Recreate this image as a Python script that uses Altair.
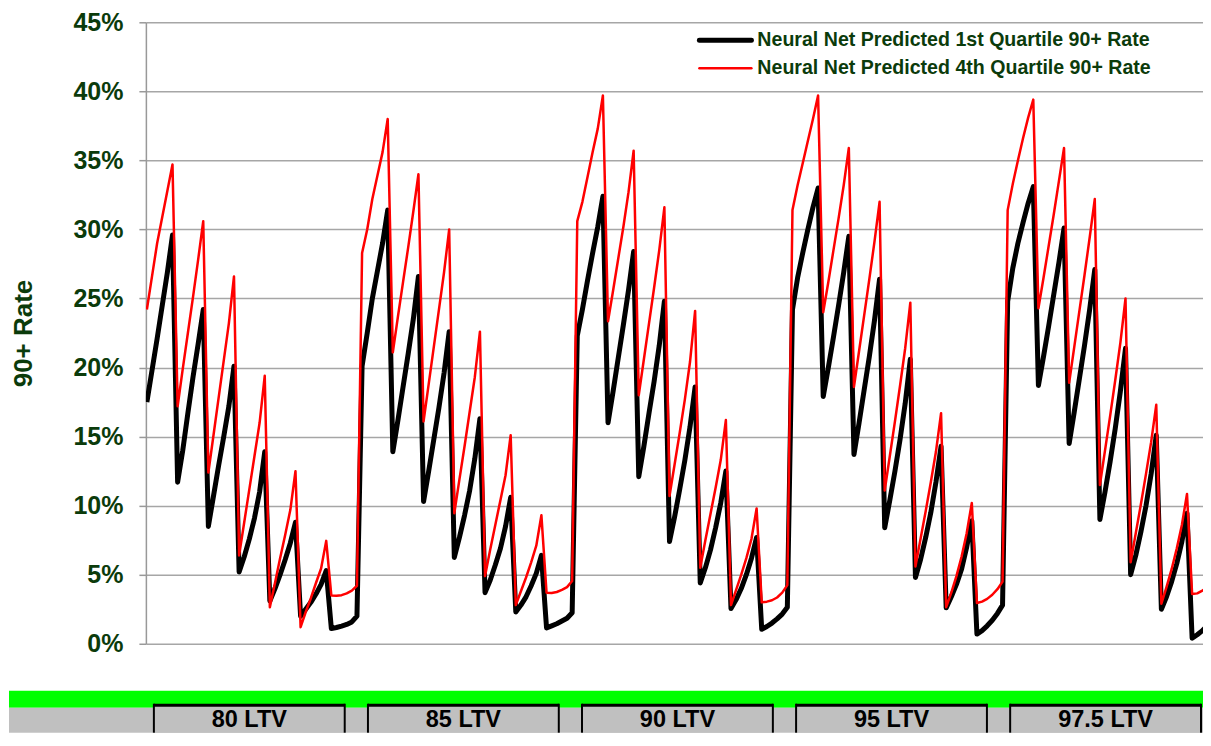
import altair as alt
import pandas as pd

# ---------------- data (values in percent) ----------------
groups = ["80 LTV", "85 LTV", "90 LTV", "95 LTV", "97.5 LTV"]
series_names = [
    "Neural Net Predicted 1st Quartile 90+ Rate",
    "Neural Net Predicted 4th Quartile 90+ Rate",
]
points_per_group = 42

q1_ltv80 = [17.5, 19.8, 22.1, 24.5, 26.9, 29.6,
            11.7, 14.0, 16.7, 19.3, 21.7, 24.2,
            8.5, 10.7, 12.9, 15.0, 17.2, 20.1,
            5.2, 6.3, 7.6, 9.1, 11.0, 13.9,
            3.1, 4.0, 5.0, 6.1, 7.3, 8.8,
            2.0, 2.5, 3.0, 3.6, 4.3, 5.3,
            1.10, 1.18, 1.28, 1.40, 1.58, 2.00]
q4_ltv80 = [24.2, 26.6, 29.0, 30.9, 32.8, 34.7,
            17.2, 19.9, 22.5, 25.1, 27.8, 30.6,
            12.4, 15.1, 17.8, 20.5, 23.2, 26.6,
            6.4, 8.8, 11.2, 13.6, 16.0, 19.4,
            2.65, 4.4, 6.2, 7.9, 9.7, 12.5,
            1.2, 2.3, 3.3, 4.4, 5.45, 7.45,
            3.50, 3.47, 3.52, 3.65, 3.85, 4.20]

q1_ltv85 = [20.1, 22.5, 25.0, 27.0, 29.0, 31.4,
            13.9, 16.2, 18.6, 21.0, 23.5, 26.6,
            10.3, 12.5, 14.8, 17.1, 19.6, 22.6,
            6.25, 7.7, 9.3, 11.1, 13.4, 16.3,
            3.7, 4.6, 5.7, 6.9, 8.5, 10.6,
            2.3, 2.8, 3.4, 4.2, 5.1, 6.4,
            1.15, 1.30, 1.45, 1.65, 1.85, 2.25]
q4_ltv85 = [28.3, 30.0, 32.2, 33.9, 35.6, 38.0,
            21.1, 23.7, 26.2, 28.7, 31.3, 34.0,
            16.1, 18.8, 21.5, 24.2, 26.9, 30.0,
            9.45, 11.9, 14.3, 16.8, 19.3, 22.6,
            4.9, 6.8, 8.6, 10.4, 12.2, 15.1,
            2.8, 3.8, 4.8, 5.9, 7.1, 9.3,
            3.70, 3.68, 3.75, 3.90, 4.10, 4.55]

q1_ltv90 = [22.3, 24.2, 26.3, 28.3, 30.2, 32.4,
            16.0, 18.3, 20.7, 23.1, 25.6, 28.4,
            12.1, 14.3, 16.7, 19.0, 21.6, 24.8,
            7.4, 9.2, 11.2, 13.3, 15.7, 18.6,
            4.4, 5.5, 6.8, 8.4, 10.2, 12.5,
            2.55, 3.2, 4.0, 5.0, 6.2, 7.7,
            1.05, 1.25, 1.50, 1.80, 2.15, 2.65]
q4_ltv90 = [30.6, 32.0, 33.8, 35.6, 37.3, 39.7,
            23.35, 25.6, 27.9, 30.2, 32.7, 35.7,
            18.0, 20.6, 23.2, 25.8, 28.5, 31.6,
            10.7, 13.0, 15.3, 17.7, 20.4, 24.1,
            5.5, 7.5, 9.4, 11.3, 13.3, 16.2,
            2.8, 3.9, 5.0, 6.2, 7.6, 9.8,
            3.00, 3.05, 3.15, 3.35, 3.70, 4.25]

q1_ltv95 = [24.2, 26.5, 28.3, 30.0, 31.6, 33.0,
            17.9, 20.0, 22.2, 24.5, 26.9, 29.5,
            13.7, 16.0, 18.4, 20.8, 23.4, 26.4,
            8.4, 10.4, 12.5, 14.8, 17.4, 20.6,
            4.8, 6.1, 7.7, 9.5, 11.7, 14.3,
            2.6, 3.4, 4.3, 5.4, 7.0, 8.9,
            0.70, 0.95, 1.30, 1.70, 2.20, 2.80]
q4_ltv95 = [31.4, 33.2, 34.8, 36.4, 38.0, 39.7,
            24.0, 26.2, 28.5, 30.8, 33.2, 35.9,
            18.6, 21.2, 23.8, 26.4, 29.1, 32.0,
            11.1, 13.6, 16.1, 18.7, 21.4, 24.7,
            5.6, 7.6, 9.6, 11.7, 13.9, 16.7,
            2.65, 3.7, 4.9, 6.3, 8.0, 10.2,
            2.95, 3.05, 3.25, 3.55, 3.95, 4.50]

q1_ltv975 = [24.8, 27.2, 29.0, 30.5, 31.9, 33.1,
             18.7, 20.8, 23.0, 25.3, 27.6, 30.1,
             14.5, 16.8, 19.2, 21.6, 24.2, 27.1,
             9.0, 11.0, 13.2, 15.6, 18.3, 21.4,
             5.0, 6.4, 8.1, 10.0, 12.3, 15.1,
             2.5, 3.4, 4.5, 5.8, 7.4, 9.45,
             0.40, 0.65, 0.95, 1.30, 1.70, 2.20]
q4_ltv975 = [31.4, 33.3, 35.0, 36.6, 38.1, 39.4,
             24.3, 26.5, 28.8, 31.1, 33.5, 35.9,
             18.9, 21.5, 24.1, 26.7, 29.4, 32.2,
             11.5, 14.0, 16.5, 19.1, 21.8, 25.0,
             5.9, 8.0, 10.1, 12.3, 14.6, 17.3,
             2.9, 4.1, 5.4, 6.9, 8.6, 10.85,
             3.60, 3.65, 3.85, 4.10, 4.45, 4.90]

y_ticks = [0, 0.05, 0.10, 0.15, 0.20, 0.25, 0.30, 0.35, 0.40, 0.45]

q1_all = [q1_ltv80, q1_ltv85, q1_ltv90, q1_ltv95, q1_ltv975]
q4_all = [q4_ltv80, q4_ltv85, q4_ltv90, q4_ltv95, q4_ltv975]

# ---------------- build tables ----------------
rows = []
for g in range(len(groups)):
    for name, arr in ((series_names[0], q1_all[g]), (series_names[1], q4_all[g])):
        for k, v in enumerate(arr):
            rows.append({"idx": g * points_per_group + k, "rate": v / 100.0,
                         "series": name, "group": groups[g]})
df = pd.DataFrame(rows)

# ---------------- layout constants ----------------
W = 1058
H = 622
PX_PER = 5.128
XMIN = -1.0 / PX_PER
XMAX = XMIN + W / PX_PER
GREEN_TXT = "#0B3B0B"
FONT = "Liberation Sans"

xscale = alt.Scale(domain=[XMIN, XMAX], nice=False, zero=False)
color_scale = alt.Scale(domain=series_names, range=["#000000", "#FF0000"])
width_scale = alt.Scale(domain=series_names, range=[5, 2.5])

lines = alt.Chart(df).mark_line(clip=True, strokeJoin="round", strokeCap="butt").encode(
    x=alt.X("idx:Q", scale=xscale, axis=None),
    y=alt.Y("rate:Q",
            scale=alt.Scale(domain=[0, 0.45], nice=False, zero=True),
            axis=alt.Axis(values=y_ticks, format=".0%", title="90+ Rate",
                          titleFont=FONT, titleFontSize=26, titleFontWeight="bold",
                          titleColor=GREEN_TXT, titlePadding=36,
                          labelFont=FONT, labelFontSize=25, labelFontWeight="bold",
                          labelColor=GREEN_TXT, labelPadding=16,
                          tickSize=7, tickColor="#999999", tickWidth=1.5,
                          domainColor="#999999", domainWidth=1.5,
                          grid=True, gridColor="#A6A6A6", gridWidth=1.5)),
    color=alt.Color("series:N", scale=color_scale, legend=None),
    strokeWidth=alt.StrokeWidth("series:N", scale=width_scale, legend=None),
    order=alt.Order("idx:Q"),
)

# legend drawn as its own small layer (series names -> rows)
legend_df = pd.DataFrame({"series": series_names})
leg_y = alt.Y("series:N",
              scale=alt.Scale(type="point", domain=series_names, range=[18, 46], padding=0),
              axis=None)
leg_rule = alt.Chart(legend_df).mark_rule(strokeCap="round").encode(
    x=alt.value(554), x2=alt.value(606), y=leg_y,
    color=alt.Color("series:N", scale=color_scale, legend=None),
    strokeWidth=alt.StrokeWidth("series:N", scale=width_scale, legend=None),
)
leg_text = alt.Chart(legend_df).mark_text(
    align="left", baseline="middle", font=FONT, fontSize=19.6,
    fontWeight="bold", color=GREEN_TXT).encode(
    x=alt.value(612), y=leg_y, text="series:N")

main = alt.layer(lines, leg_rule, leg_text).resolve_scale(y="independent").properties(
    width=W, height=H)

# ---------------- bottom LTV band ----------------
H2 = 42
BOX_L0 = 7.0 / PX_PER
BOX_STEP = 214.25 / PX_PER
BOX_W = 191.0 / PX_PER
boxes = pd.DataFrame({
    "label": groups,
    "b1": [BOX_L0 + g * BOX_STEP for g in range(len(groups))],
})
boxes["b2"] = boxes["b1"] + BOX_W
boxes["bm"] = (boxes["b1"] + boxes["b2"]) / 2
band = pd.DataFrame({"s": [XMIN - 137 / PX_PER], "e": [XMAX]})

bx = alt.Scale(domain=[XMIN, XMAX], nice=False, zero=False)

green = alt.Chart(band).mark_rect(color="#00FF00").encode(
    x=alt.X("s:Q", scale=bx, axis=None), x2="e:Q",
    y=alt.value(0), y2=alt.value(17))
gray = alt.Chart(band).mark_rect(color="#C0C0C0").encode(
    x=alt.X("s:Q", scale=bx, axis=None), x2="e:Q",
    y=alt.value(17), y2=alt.value(H2))
box_fill = alt.Chart(boxes).mark_rect(color="#C0C0C0").encode(
    x=alt.X("b1:Q", scale=bx, axis=None), x2="b2:Q",
    y=alt.value(14), y2=alt.value(H2))
box_top = alt.Chart(boxes).mark_rule(color="#000000", strokeWidth=3).encode(
    x=alt.X("b1:Q", scale=bx, axis=None), x2="b2:Q", y=alt.value(14.5))
box_left = alt.Chart(boxes).mark_rule(color="#000000", strokeWidth=2).encode(
    x=alt.X("b1:Q", scale=bx, axis=None), y=alt.value(13), y2=alt.value(H2))
box_right = alt.Chart(boxes).mark_rule(color="#000000", strokeWidth=2).encode(
    x=alt.X("b2:Q", scale=bx, axis=None), y=alt.value(13), y2=alt.value(H2))
box_text = alt.Chart(boxes).mark_text(
    font=FONT, fontSize=23.5,
    fontWeight="bold", color="#000000", baseline="middle", align="center").encode(
    x=alt.X("bm:Q", scale=bx, axis=None), y=alt.value(29.5), text="label:N")

bottom = alt.layer(green, gray, box_fill, box_top, box_left, box_right, box_text).properties(
    width=W, height=H2)

chart = alt.vconcat(main, bottom, spacing=34).resolve_scale(
    x="independent", y="independent"
).properties(
    padding={"left": 0, "top": 2, "right": 0, "bottom": 0},
    background="white",
).configure_view(strokeWidth=0)

chart.save("out.html", embed_options={"renderer": "svg", "actions": False})
